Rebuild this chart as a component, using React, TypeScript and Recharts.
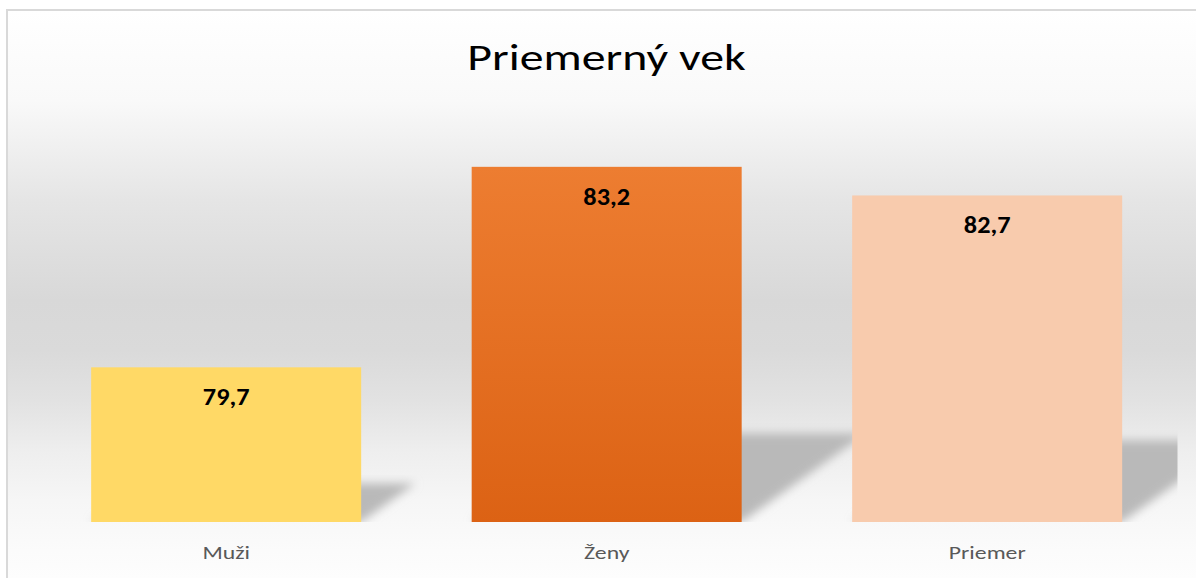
import React from 'react';
import { BarChart, Bar, XAxis, YAxis, Cell, LabelList } from 'recharts';

const title = 'Priemerný vek';
const categories = ['Muži', 'Ženy', 'Priemer'];
const values = [79.7, 83.2, 82.7];
const barColors = ['#FFD966', 'url(#zenyGrad)', '#F8CBAD'];
const yDomain = [77, 84];

const data = categories.map((name, i) => ({ name, value: values[i] }));

const W = 1197;
const H = 578;
const margin = { top: 121, right: 19.5, bottom: 0, left: 36 };
const FONT = "Calibri, Carlito, 'Open Sans', sans-serif";

const ShadowBar = (props: any) => {
  const { x, y, width, height, fill } = props;
  const bottom = y + height;
  const sh = height * 0.25;
  const dx = sh * 1.4;
  const pts = `${x},${bottom} ${x + width},${bottom} ${x + width + dx},${bottom - sh} ${x + dx},${bottom - sh}`;
  return (
    <g>
      <g clipPath="url(#plotClip)">
        <polygon points={pts} fill="#b9b9b9" filter="url(#shadowBlur)" />
      </g>
      <rect x={x} y={bottom} width={width} height={2} fill="#e6e6e6" />
      <rect x={x} y={y} width={width} height={height} fill={fill} />
    </g>
  );
};

const renderLabel = (props: any) => {
  const { x, y, width, value } = props;
  return (
    <text
      transform={`translate(${x + width / 2},${y + 29.5}) scale(1.05,1)`}
      textAnchor="middle"
      dominantBaseline="central"
      fontWeight="bold"
      fontSize={25}
      fill="#000"
      fontFamily={FONT}
    >
      {String(value).replace('.', ',')}
    </text>
  );
};

const renderTick = (props: any) => {
  const { x, y, payload } = props;
  return (
    <text
      transform={`translate(${x},${y + 23}) scale(1.25,1)`}
      textAnchor="middle"
      dominantBaseline="central"
      fontSize={19}
      fill="#595959"
      fontFamily={FONT}
    >
      {payload.value}
    </text>
  );
};

export default function App() {
  return (
    <div style={{ position: 'absolute', left: 0, top: 0, width: W, height: H, overflow: 'hidden', background: '#fff' }}>
      <div
        style={{
          position: 'absolute',
          left: 6,
          top: 9,
          width: 1188,
          height: H - 9,
          borderLeft: '2px solid #d9d9d9',
          borderTop: '2px solid #d9d9d9',
          background:
            'linear-gradient(to bottom, #ffffff 0px, #f9f9f9 90px, #e5e5e5 190px, #d8d8d8 290px, #dadada 340px, #e2e2e2 390px, #eeeeee 440px, #f6f6f6 490px, #fbfbfb 540px, #fdfdfd 568px)',
        }}
      />
      <svg style={{ position: 'absolute', left: 0, top: 0 }} width={W} height={H}>
        <text
          transform="translate(606.5,70) scale(1.33,1)"
          textAnchor="middle"
          fontSize={36}
          fill="#000"
          fontFamily={FONT}
        >
          {title}
        </text>
      </svg>
      <div style={{ position: 'absolute', left: 0, top: 0 }}>
        <BarChart width={W} height={H} data={data} margin={margin} barCategoryGap="14.5%">
          <defs>
            <linearGradient id="zenyGrad" x1="0" y1="0" x2="0" y2="1">
              <stop offset="0%" stopColor="#ED7D31" />
              <stop offset="100%" stopColor="#DC6214" />
            </linearGradient>
            <filter id="shadowBlur" x="-20%" y="-20%" width="140%" height="140%">
              <feGaussianBlur stdDeviation="5" />
            </filter>
            <clipPath id="plotClip">
              <rect x={margin.left} y={0} width={W - margin.left - margin.right} height={H} />
            </clipPath>
          </defs>
          <XAxis dataKey="name" axisLine={false} tickLine={false} height={56} tick={renderTick} interval={0} />
          <YAxis hide domain={yDomain} allowDataOverflow />
          <Bar dataKey="value" shape={ShadowBar} isAnimationActive={false}>
            {data.map((d, i) => (
              <Cell key={d.name} fill={barColors[i]} />
            ))}
            <LabelList dataKey="value" content={renderLabel} />
          </Bar>
        </BarChart>
      </div>
    </div>
  );
}
